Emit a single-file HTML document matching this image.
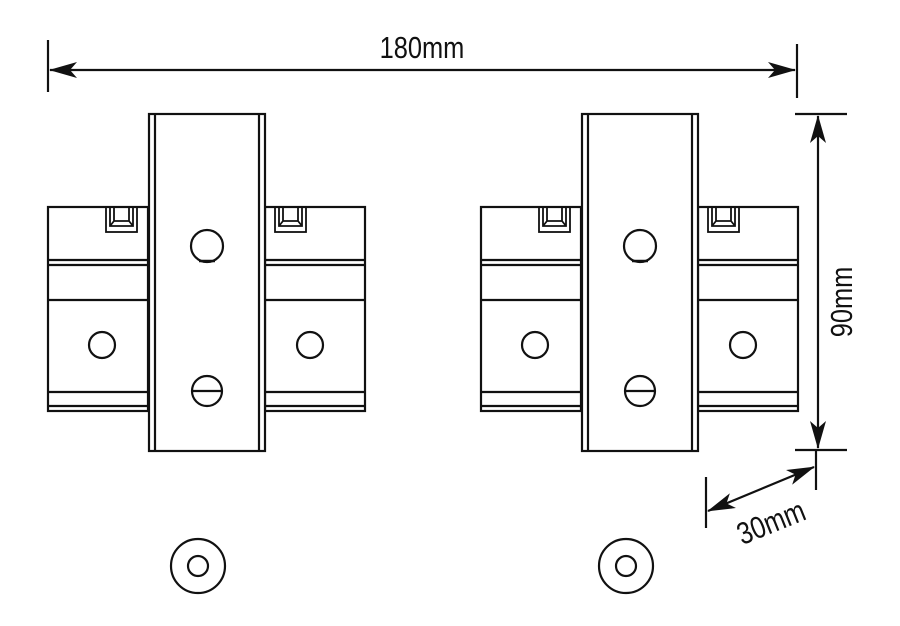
<!DOCTYPE html>
<html><head><style>html,body{margin:0;padding:0;background:#fff}svg{display:block}</style></head><body>
<svg width="900" height="626" viewBox="0 0 900 626" xmlns="http://www.w3.org/2000/svg">
<defs>
<g id="unit" fill="none" stroke="#111" stroke-width="2.2">
  <rect x="48" y="207" width="100" height="204" fill="#fff"/>
  <rect x="265" y="207" width="100" height="204" fill="#fff"/>
  <line x1="48" y1="260" x2="148" y2="260"/><line x1="48" y1="265" x2="148" y2="265"/>
  <line x1="48" y1="300" x2="148" y2="300"/>
  <line x1="48" y1="392" x2="148" y2="392"/><line x1="48" y1="406" x2="148" y2="406"/>
  <line x1="265" y1="260" x2="365" y2="260"/><line x1="265" y1="265" x2="365" y2="265"/>
  <line x1="265" y1="300" x2="365" y2="300"/>
  <line x1="265" y1="392" x2="365" y2="392"/><line x1="265" y1="406" x2="365" y2="406"/>
  <g stroke-width="1.8">
    <rect x="106" y="207" width="31" height="25"/>
    <path d="M110 207 V226 H133 V207 M114 207 V221 H129 V207 M110 226 L114 221 M133 226 L129 221"/>
    <rect x="275" y="207" width="31" height="25"/>
    <path d="M279 207 V226 H302 V207 M283 207 V221 H298 V207 M279 226 L283 221 M302 226 L298 221"/>
  </g>
  <circle cx="102" cy="345" r="13"/>
  <circle cx="310" cy="345" r="13"/>
  <rect x="149" y="114" width="116" height="337" fill="#fff"/>
  <line x1="155" y1="114" x2="155" y2="451"/><line x1="259" y1="114" x2="259" y2="451"/>
  <circle cx="207" cy="246" r="16"/>
  <line x1="199" y1="261" x2="215" y2="261" stroke-width="2.5"/>
  <circle cx="207" cy="391" r="15"/>
  <line x1="192" y1="391" x2="222" y2="391"/>
</g>
<marker id="ah" viewBox="0 0 28 16" refX="27" refY="8" markerWidth="28" markerHeight="16" markerUnits="userSpaceOnUse" orient="auto-start-reverse">
  <path d="M0 0 L28 8 L0 16 L7 8 Z" fill="#111"/>
</marker>
</defs>
<use href="#unit"/>
<use href="#unit" transform="translate(433,0)"/>
<g fill="none" stroke="#111" stroke-width="2.2">
  <circle cx="198" cy="566" r="27"/><circle cx="198" cy="566" r="10"/>
  <circle cx="626" cy="566" r="27"/><circle cx="626" cy="566" r="10"/>
</g>
<g stroke="#111" stroke-width="2.2" fill="none">
  <line x1="48" y1="40" x2="48" y2="92"/>
  <line x1="797" y1="44" x2="797" y2="98"/>
  <line x1="50" y1="70" x2="795" y2="70" marker-start="url(#ah)" marker-end="url(#ah)"/>
  <line x1="795" y1="114" x2="847" y2="114"/>
  <line x1="795" y1="450" x2="847" y2="450"/>
  <line x1="818" y1="116" x2="818" y2="448" marker-start="url(#ah)" marker-end="url(#ah)"/>
  <line x1="706" y1="477" x2="706" y2="528"/>
  <line x1="816" y1="450" x2="816" y2="490"/>
  <line x1="708" y1="511" x2="814" y2="467" marker-start="url(#ah)" marker-end="url(#ah)"/>
</g>
<g font-family="Liberation Sans, sans-serif" font-size="31" fill="#111">
  <text x="0" y="0" text-anchor="middle" transform="translate(422,58) scale(0.82,1)">180mm</text>
  <text x="0" y="0" text-anchor="middle" transform="translate(852,302) rotate(-90) scale(0.82,1)">90mm</text>
  <text x="0" y="0" text-anchor="middle" transform="translate(775,532) rotate(-22) scale(0.82,1)">30mm</text>
</g>
</svg>
</body></html>
